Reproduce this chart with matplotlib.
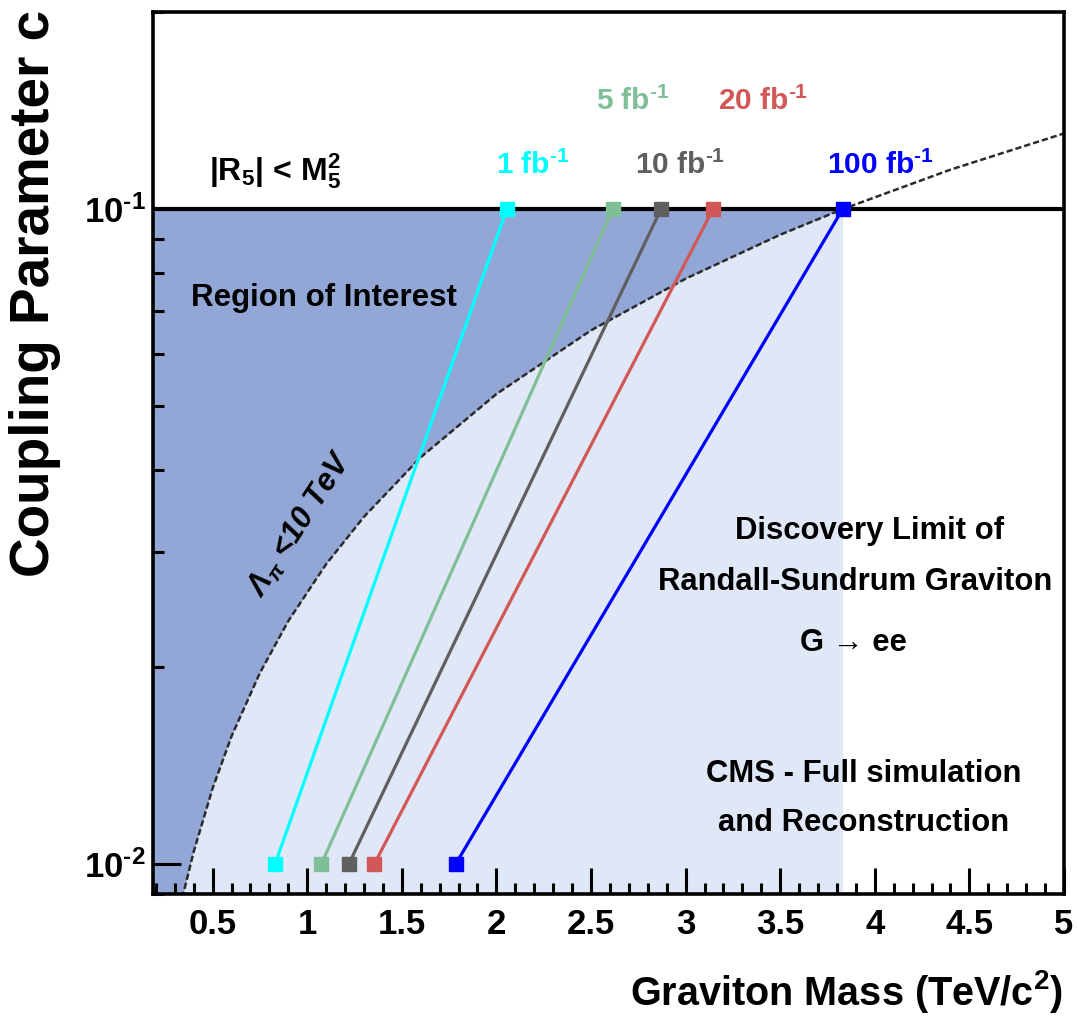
import matplotlib
matplotlib.use("Agg")
import matplotlib.pyplot as plt
from matplotlib import font_manager
from matplotlib.ticker import MultipleLocator, LogLocator, NullFormatter, FixedLocator, FixedFormatter

# discovery limits: graviton mass (TeV) reached at c = 0.01 and c = 0.1
lumi_labels = ["1 fb$^{\\text{-}1}$", "5 fb$^{\\text{-}1}$", "10 fb$^{\\text{-}1}$",
               "20 fb$^{\\text{-}1}$", "100 fb$^{\\text{-}1}$"]
lumi_colors = ["#00ffff", "#7fbf97", "#5f5f5f", "#d25858", "#0000ff"]
mass_c_low = [0.83, 1.075, 1.22, 1.355, 1.785]
mass_c_high = [2.055, 2.615, 2.87, 3.145, 3.83]
c_low = 0.01
c_high = 0.1

# Lambda_pi = 10 TeV boundary
lam_mass = [0.34, 0.40, 0.50, 0.60, 0.75, 0.90, 1.10, 1.30, 1.60, 2.00,
            2.50, 3.00, 3.50, 3.83, 4.40, 5.00]
lam_c = [0.00888, 0.01044, 0.01305, 0.01567, 0.01958, 0.0235, 0.0287, 0.0339,
         0.0418, 0.0522, 0.0653, 0.0783, 0.0914, 0.1000, 0.1149, 0.1305]

x_ticks = [0.5, 1, 1.5, 2, 2.5, 3, 3.5, 4, 4.5, 5]
x_ticklabels = ["0.5", "1", "1.5", "2", "2.5", "3", "3.5", "4", "4.5", "5"]
y_ticks = [0.01, 0.1]
y_ticklabels = ["10$^{\\text{-}2}$", "10$^{\\text{-}1}$"]

xmin, xmax = 0.185, 5.0
ymin, ymax = 0.009, 0.2


def pick_font(names):
    for n in names:
        try:
            font_manager.findfont(font_manager.FontProperties(family=n), fallback_to_default=False)
            return n
        except ValueError:
            pass
    return "DejaVu Sans"


FONT = pick_font(["Liberation Sans Narrow", "Liberation Sans", "Arial"])
plt.rcParams["font.family"] = [FONT, "DejaVu Sans"]
plt.rcParams["font.weight"] = "bold"
plt.rcParams["mathtext.fontset"] = "custom"
plt.rcParams["mathtext.rm"] = FONT + ":bold"
plt.rcParams["mathtext.bf"] = FONT + ":bold"
plt.rcParams["mathtext.it"] = FONT + ":italic:bold"
plt.rcParams["mathtext.default"] = "regular"

fig = plt.figure(figsize=(10.77, 10.19), dpi=100)
ax = fig.add_axes([153 / 1077, 1 - 894 / 1019, 911 / 1077, 882 / 1019])
ax.set_yscale("log")
ax.set_xlim(xmin, xmax)
ax.set_ylim(ymin, ymax)

# shaded regions
in_x = [m for m in lam_mass if m <= mass_c_high[-1]]
in_c = lam_c[:len(in_x)]
ax.fill_between([xmin] + in_x, [ymin] + in_c, c_high, color="#93a7d6", lw=0, zorder=1)
ax.fill_between(in_x, ymin, in_c, color="#e0e7f6", lw=0, zorder=1)

ax.plot(lam_mass, lam_c, color="#2a2a2a", lw=1.8, ls=(0, (2.5, 1.2)), zorder=3)
ax.axhline(c_high, color="black", lw=3, zorder=4)

for lab, col, m0, m1 in zip(lumi_labels, lumi_colors, mass_c_low, mass_c_high):
    ax.plot([m0, m1], [c_low, c_high], color=col, lw=2.3, marker="s", ms=10,
            mec=col, mfc=col, zorder=5, clip_on=False)

# luminosity labels
lab_pos = [(2.19, 0.1165), (2.72, 0.146), (2.97, 0.1165), (3.41, 0.146), (4.03, 0.1165)]
for lab, col, (lx, ly) in zip(lumi_labels, lumi_colors, lab_pos):
    ax.text(lx, ly, lab, color=col, fontsize=21.5, ha="center", va="center", zorder=6)

ax.text(0.83, 0.1143, "|R$_5$| < M$_5^2$", fontsize=23, ha="center", va="center")
ax.text(1.09, 0.0731, "Region of Interest", fontsize=22.5, ha="center", va="center", zorder=6)
ax.text(0.963, 0.0330, "Λ$_{π}$ <10 TeV", fontsize=22, ha="center", va="center",
        rotation=57, style="italic", zorder=6)
ax.text(3.97, 0.0322, "Discovery Limit of", fontsize=22.3, ha="center", va="center", zorder=6)
ax.text(3.894, 0.0270, "Randall-Sundrum Graviton", fontsize=22.3, ha="center", va="center", zorder=6)
ax.text(3.889, 0.02175, "G → ee", fontsize=22.3, ha="center", va="center", zorder=6)
ax.text(3.94, 0.01372, "CMS - Full simulation", fontsize=22.3, ha="center", va="center", zorder=6)
ax.text(3.94, 0.01156, "and Reconstruction", fontsize=22.3, ha="center", va="center", zorder=6)

# axes styling
for s in ax.spines.values():
    s.set_linewidth(2.6)
    s.set_zorder(7)

ax.xaxis.set_major_locator(FixedLocator(x_ticks))
ax.xaxis.set_major_formatter(FixedFormatter(x_ticklabels))
ax.xaxis.set_minor_locator(MultipleLocator(0.1))
ax.yaxis.set_major_locator(FixedLocator(y_ticks))
ax.yaxis.set_major_formatter(FixedFormatter(y_ticklabels))
ax.yaxis.set_minor_locator(LogLocator(base=10, subs=range(2, 10)))
ax.yaxis.set_minor_formatter(NullFormatter())

ax.tick_params(axis="both", which="both", direction="in", top=False, right=False, width=2.2)
ax.tick_params(axis="x", which="major", length=19, pad=10, labelsize=25)
ax.tick_params(axis="x", which="minor", length=8)
ax.tick_params(axis="y", which="major", length=20, pad=5, labelsize=25)
ax.tick_params(axis="y", which="minor", length=8)
for t in ax.get_xticklabels() + ax.get_yticklabels():
    t.set_fontweight("bold")
    t.set_zorder(8)

fig.text(35 / 1077, 1 - 10 / 1019, "Coupling Parameter c", rotation=90, ha="center", va="top",
         fontsize=39.5)
fig.text(1063 / 1077, 1 - 1005 / 1019, "Graviton Mass (TeV/c$^2$)", ha="right", va="baseline",
         fontsize=28.5)

fig.savefig("out.png", dpi=100, facecolor="white")
